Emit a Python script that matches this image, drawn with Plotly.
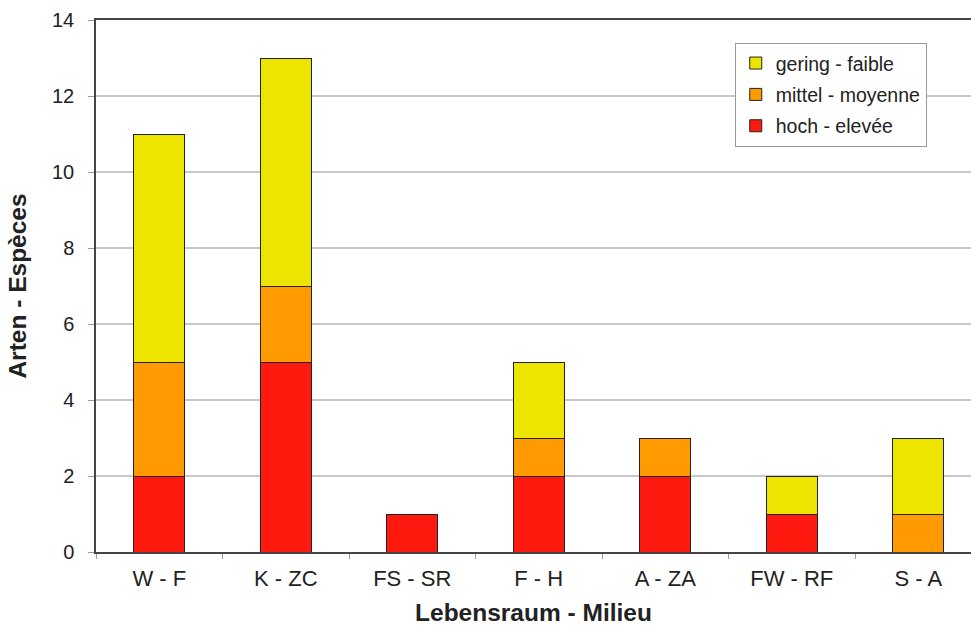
import plotly.graph_objects as go

categories = ["W - F", "K - ZC", "FS - SR", "F - H", "A - ZA", "FW - RF", "S - A"]
hoch = [2, 5, 1, 2, 2, 1, 0]
mittel = [3, 2, 0, 1, 1, 0, 1]
gering = [6, 6, 0, 2, 0, 1, 2]

series = [
    ("hoch - elevée", hoch, "#FF1A10", 3),
    ("mittel - moyenne", mittel, "#FF9A00", 2),
    ("gering - faible", gering, "#EDE500", 1),
]

fig = go.Figure()
for i, (name, vals, col, rank) in enumerate(series):
    fig.add_trace(go.Bar(
        x=categories, y=vals, name=name, legendgroup=f"g{i}", legendrank=rank,
        marker=dict(color=col, line=dict(color="#222222", width=1)),
        width=0.4,
    ))

fig.update_layout(
    barmode="stack",
    width=971, height=627,
    margin=dict(l=96, r=0, t=20, b=75),
    paper_bgcolor="white", plot_bgcolor="white",
    font=dict(family="Liberation Sans, Arial, sans-serif", color="#222222"),
    showlegend=True,
    legend=dict(
        x=0.73, y=0.957, xanchor="left", yanchor="top",
        traceorder="grouped", tracegroupgap=3,
        bgcolor="white", bordercolor="#999999", borderwidth=1,
        font=dict(size=19.5, color="#222222"),
        itemwidth=30,
    ),
    xaxis=dict(
        range=[-0.5, 6.417], automargin=False,
        showline=True, linecolor="#444444", linewidth=1.5, mirror=True,
        ticks="outside", ticklen=5, tickcolor="#999999",
        tickson="boundaries", ticklabelstandoff=6,
        tickfont=dict(size=22, color="#222222"),
        title=dict(text="<b>Lebensraum - Milieu</b>", font=dict(size=24.5), standoff=14),
        showgrid=False,
    ),
    yaxis=dict(
        range=[0, 14], dtick=2, automargin=False,
        showline=True, linecolor="#444444", linewidth=1.5,
        ticks="outside", ticklen=6, tickcolor="#999999", ticklabelstandoff=10,
        tickfont=dict(size=20, color="#222222"),
        showgrid=True, gridcolor="#c8c8c8", gridwidth=1.5,
        zeroline=False,
        title=dict(text="<b>Arten - Espèces</b>", font=dict(size=24.5), standoff=18),
    ),
)

fig.write_html("out.html", config={"displayModeBar": False},
               post_script="document.body.style.margin='0';")
